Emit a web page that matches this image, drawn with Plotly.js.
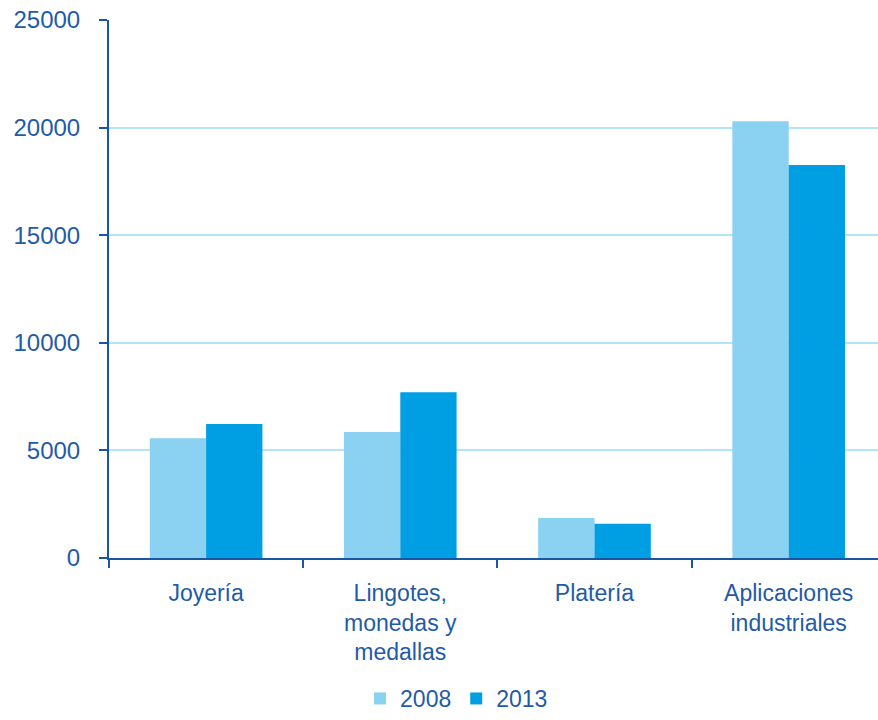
<!DOCTYPE html>
<html><head><meta charset="utf-8">
<script src="https://cdn.plot.ly/plotly-3.0.1.min.js"></script>
<style>body{margin:0;padding:0;background:#fff}#chart{width:878px;height:720px}</style>
</head><body><div id="chart"></div>
<script>
const categories = ["Joyería", "Lingotes,<br>monedas y<br>medallas", "Platería", "Aplicaciones<br>industriales"];
const series2008 = [5560, 5860, 1860, 20300];
const series2013 = [6230, 7700, 1590, 18260];
const seriesNames = ["2008", "2013"];
const yTicks = [0, 5000, 10000, 15000, 20000, 25000];

const textColor = "#1F5BA8";
const traces = [
  {type: "bar", name: seriesNames[0], x: categories, y: series2008, marker: {color: "#8AD1F2"}},
  {type: "bar", name: seriesNames[1], x: categories, y: series2013, marker: {color: "#009FE3"}}
];
const layout = {
  width: 878, height: 720,
  margin: {l: 109, r: 0, t: 20, b: 162, autoexpand: false},
  paper_bgcolor: "#fff", plot_bgcolor: "#fff",
  font: {family: "Liberation Sans, Arial, sans-serif", color: textColor, size: 24},
  barmode: "group", bargap: 0.42, bargroupgap: 0,
  showlegend: true,
  legend: {orientation: "h", x: 0.52, xanchor: "center", xref: "container",
           y: 0.0, yanchor: "bottom", yref: "container",
           font: {size: 23, color: textColor}, itemwidth: 30, traceorder: "normal"},
  xaxis: {
    type: "category", range: [-0.5, 3.46], automargin: false,
    showline: true, linecolor: "#1A56A6", linewidth: 2,
    ticks: "outside", tickson: "boundaries", ticklen: 8, tickwidth: 2, tickcolor: "#1A56A6",
    showgrid: false, zeroline: false,
    tickfont: {family: "Liberation Sans, Arial, sans-serif", size: 23, color: textColor},
    ticklabelstandoff: 13
  },
  yaxis: {
    range: [0, 25000], tickvals: yTicks, ticktext: yTicks.map(String), automargin: false,
    showline: true, linecolor: "#1A56A6", linewidth: 2,
    ticks: "outside", ticklen: 8, tickwidth: 2, tickcolor: "#1A56A6",
    showgrid: true, gridcolor: "#B5E4F8", gridwidth: 2, zeroline: false,
    tickfont: {size: 24, color: textColor},
    ticklabelstandoff: 14
  }
};
Plotly.newPlot("chart", traces, layout, {displayModeBar: false, staticPlot: true});
</script></body></html>
